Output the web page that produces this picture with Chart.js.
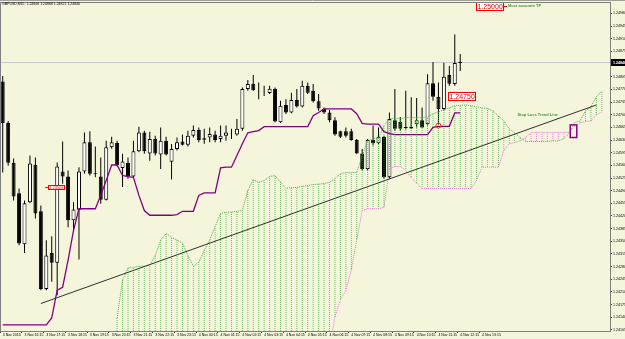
<!DOCTYPE html>
<html>
<head>
<meta charset="utf-8">
<script src="https://cdn.jsdelivr.net/npm/chart.js@4.4.0/dist/chart.umd.min.js"></script>
<style>
  html, body { margin: 0; padding: 0; background: #f5f5dc; }
  canvas { display: block; }
</style>
</head>
<body>
<canvas id="myChart" width="625" height="339"></canvas>
<script>
// GBPUSD M15 candles, bar 0 = 3 Nov 15:15
var opens = [
  1.24792, 1.24677, 1.24567, 1.24483, 1.24342, 1.24458, 1.24562, 1.24433, 1.24218, 1.24318,
  1.24291, 1.24543, 1.24529, 1.24408, 1.24437, 1.24543, 1.24624, 1.24537, 1.24529, 1.24465,
  1.24610, 1.24622, 1.24553, 1.24567, 1.24529, 1.24599, 1.24651, 1.24593, 1.24633, 1.24590,
  1.24628, 1.24570, 1.24605, 1.24626, 1.24617, 1.24642, 1.24658, 1.24631, 1.24637, 1.24645,
  1.24633, 1.24642, 1.24648, 1.24645, 1.24661, 1.24771, 1.24785, 1.24765, 1.24764, 1.24760,
  1.24772, 1.24679, 1.24727, 1.24706, 1.24741, 1.24723, 1.24780, 1.24766, 1.24737, 1.24716,
  1.24706, 1.24685, 1.24654, 1.24654, 1.24654, 1.24630, 1.24593, 1.24550, 1.24630, 1.24621,
  1.24639, 1.24527, 1.24685, 1.24680, 1.24663, 1.24667, 1.24674, 1.24685, 1.24674, 1.24787,
  1.24750, 1.24716, 1.24810, 1.24785, 1.24843
];
var highs = [
  1.24807, 1.24683, 1.24579, 1.24496, 1.24463, 1.24587, 1.24582, 1.24449, 1.24353, 1.24364,
  1.24568, 1.24626, 1.24546, 1.24458, 1.24555, 1.24651, 1.24654, 1.24612, 1.24582, 1.24628,
  1.24639, 1.24628, 1.24592, 1.24582, 1.24628, 1.24667, 1.24656, 1.24653, 1.24642, 1.24665,
  1.24639, 1.24619, 1.24637, 1.24645, 1.24656, 1.24670, 1.24665, 1.24661, 1.24665, 1.24656,
  1.24670, 1.24670, 1.24661, 1.24688, 1.24775, 1.24796, 1.24810, 1.24789, 1.24780, 1.24780,
  1.24775, 1.24739, 1.24743, 1.24761, 1.24771, 1.24794, 1.24789, 1.24785, 1.24757, 1.24720,
  1.24713, 1.24693, 1.24656, 1.24665, 1.24661, 1.24633, 1.24605, 1.24633, 1.24670, 1.24665,
  1.24642, 1.24706, 1.24771, 1.24694, 1.24766, 1.24748, 1.24746, 1.24720, 1.24812, 1.24846,
  1.24789, 1.24844, 1.24835, 1.24922, 1.24868
];
var lows = [
  1.24540, 1.24559, 1.24463, 1.24339, 1.24318, 1.24455, 1.24413, 1.24215, 1.24215, 1.24238,
  1.24201, 1.24509, 1.24389, 1.24376, 1.24300, 1.24537, 1.24532, 1.24527, 1.24454, 1.24463,
  1.24606, 1.24557, 1.24500, 1.24523, 1.24527, 1.24596, 1.24592, 1.24573, 1.24587, 1.24550,
  1.24587, 1.24521, 1.24601, 1.24615, 1.24612, 1.24637, 1.24624, 1.24620, 1.24624, 1.24624,
  1.24624, 1.24628, 1.24633, 1.24642, 1.24656, 1.24766, 1.24766, 1.24743, 1.24752, 1.24757,
  1.24679, 1.24677, 1.24702, 1.24704, 1.24720, 1.24720, 1.24757, 1.24734, 1.24711, 1.24702,
  1.24679, 1.24642, 1.24636, 1.24637, 1.24628, 1.24592, 1.24546, 1.24546, 1.24615, 1.24619,
  1.24523, 1.24523, 1.24656, 1.24656, 1.24659, 1.24661, 1.24665, 1.24664, 1.24670, 1.24739,
  1.24674, 1.24711, 1.24780, 1.24780, 1.24821
];
var closes = [
  1.24677, 1.24567, 1.24474, 1.24344, 1.24455, 1.24565, 1.24427, 1.24218, 1.24311, 1.24291,
  1.24557, 1.24529, 1.24408, 1.24438, 1.24543, 1.24624, 1.24537, 1.24539, 1.24465, 1.24610,
  1.24624, 1.24561, 1.24571, 1.24529, 1.24599, 1.24651, 1.24599, 1.24633, 1.24593, 1.24628,
  1.24590, 1.24605, 1.24624, 1.24617, 1.24642, 1.24658, 1.24630, 1.24635, 1.24647, 1.24630,
  1.24642, 1.24651, 1.24649, 1.24661, 1.24771, 1.24785, 1.24768, 1.24764, 1.24765, 1.24772,
  1.24681, 1.24725, 1.24706, 1.24741, 1.24723, 1.24780, 1.24761, 1.24737, 1.24717, 1.24706,
  1.24685, 1.24645, 1.24639, 1.24642, 1.24630, 1.24593, 1.24550, 1.24630, 1.24621, 1.24639,
  1.24527, 1.24688, 1.24661, 1.24661, 1.24666, 1.24662, 1.24685, 1.24665, 1.24787, 1.24750,
  1.24716, 1.24805, 1.24786, 1.24843, 1.24846
];

// Ichimoku kijun-sen (purple)
var kijun = [
  1.24119, 1.24119, 1.24119, 1.24119, 1.24119, 1.24119, 1.24119, 1.24119, 1.24119, 1.24138,
  1.24215, 1.24223, 1.24298, 1.24380, 1.24440, 1.24440, 1.24440, 1.24440, 1.24477, 1.24518,
  1.24561, 1.24561, 1.24532, 1.24529, 1.24527, 1.24477, 1.24435, 1.24422, 1.24422, 1.24422,
  1.24422, 1.24422, 1.24424, 1.24433, 1.24433, 1.24433, 1.24477, 1.24484, 1.24484, 1.24484,
  1.24553, 1.24555, 1.24555, 1.24587, 1.24620, 1.24650, 1.24653, 1.24656, 1.24667, 1.24667,
  1.24667, 1.24667, 1.24667, 1.24667, 1.24667, 1.24667, 1.24667, 1.24697, 1.24706, 1.24716,
  1.24716, 1.24716, 1.24716, 1.24716, 1.24716, 1.24703, 1.24676, 1.24674, 1.24674, 1.24674,
  1.24653, 1.24648, 1.24645, 1.24645, 1.24645, 1.24645, 1.24645, 1.24645, 1.24645, 1.24665,
  1.24668, 1.24668, 1.24668, 1.24705, 1.24705
];

// cloud, shifted 26 bars ahead (1.24050 = below the visible range)
var spanA = [
  null, null, null, null, null, null, null, null, null, null,
  null, null, null, null, null, null, null, null, null, null,
  null, 1.24138, 1.24243, 1.24276, 1.24278, 1.24281, 1.24281, 1.24284, 1.24311, 1.24353,
  1.24372, 1.24361, 1.24353, 1.24345, 1.24311, 1.24281, 1.24292, 1.24325, 1.24353, 1.24391,
  1.24427, 1.24430, 1.24431, 1.24433, 1.24435, 1.24491, 1.24521, 1.24513, 1.24518, 1.24529,
  1.24532, 1.24513, 1.24496, 1.24499, 1.24499, 1.24502, 1.24504, 1.24507, 1.24508, 1.24510,
  1.24513, 1.24523, 1.24537, 1.24540, 1.24540, 1.24540, 1.24587, 1.24628, 1.24634, 1.24635,
  1.24670, 1.24689, 1.24690, 1.24690, 1.24692, 1.24692, 1.24692, 1.24692, 1.24694, 1.24703,
  1.24708, 1.24714, 1.24719, 1.24725, 1.24726, 1.24727, 1.24725, 1.24722, 1.24719, 1.24717,
  1.24711, 1.24697, 1.24683, 1.24661, 1.24650, 1.24637, 1.24626, 1.24626, 1.24626, 1.24626,
  1.24626, 1.24628, 1.24628, 1.24634, 1.24648, 1.24678, 1.24683, 1.24711, 1.24722, 1.24750,
  1.24766
];
var spanB = [
  null, null, null, null, null, null, null, null, null, null,
  null, null, null, null, null, null, null, null, null, null,
  null, 1.24050, 1.24050, 1.24050, 1.24050, 1.24050, 1.24050, 1.24050, 1.24050, 1.24050,
  1.24050, 1.24050, 1.24050, 1.24050, 1.24050, 1.24050, 1.24050, 1.24050, 1.24050, 1.24050,
  1.24050, 1.24050, 1.24050, 1.24050, 1.24050, 1.24050, 1.24050, 1.24050, 1.24050, 1.24050,
  1.24050, 1.24050, 1.24050, 1.24050, 1.24050, 1.24050, 1.24050, 1.24050, 1.24050, 1.24050,
  1.24050, 1.24141, 1.24188, 1.24215, 1.24270, 1.24353, 1.24435, 1.24440, 1.24440, 1.24440,
  1.24444, 1.24551, 1.24557, 1.24557, 1.24546, 1.24526, 1.24510, 1.24496, 1.24496, 1.24496,
  1.24496, 1.24496, 1.24496, 1.24496, 1.24496, 1.24496, 1.24496, 1.24518, 1.24555, 1.24555,
  1.24555, 1.24555, 1.24601, 1.24620, 1.24623, 1.24628, 1.24637, 1.24650, 1.24651, 1.24651,
  1.24651, 1.24651, 1.24651, 1.24651, 1.24651, 1.24667, 1.24678, 1.24681, 1.24683, 1.24700,
  1.24708
];

var trendLine = [
  { bar: 7, price: 1.24178 },
  { bar: 109, price: 1.24727 }
];

var timeLabels = [
  '3 Nov 2016', '3 Nov 16:15', '3 Nov 17:15', '3 Nov 18:15', '3 Nov 19:15', '3 Nov 20:15',
  '3 Nov 21:15', '3 Nov 22:15', '3 Nov 23:15', '4 Nov 00:15', '4 Nov 01:15', '4 Nov 02:15',
  '4 Nov 03:15', '4 Nov 04:15', '4 Nov 05:15', '4 Nov 06:15', '4 Nov 07:15', '4 Nov 08:15',
  '4 Nov 09:15', '4 Nov 10:15', '4 Nov 11:15', '4 Nov 12:15', '4 Nov 13:15'
];
var priceTicks = [
  1.24980, 1.24945, 1.24910, 1.24875, 1.24840, 1.24805, 1.24770, 1.24735, 1.24700, 1.24665,
  1.24630, 1.24595, 1.24560, 1.24525, 1.24490, 1.24455, 1.24420, 1.24385, 1.24350, 1.24315,
  1.24280, 1.24245, 1.24210, 1.24175, 1.24140, 1.24105
];

var symbolTitle = 'GBPUSD,M15  1.24846 1.24868 1.24821 1.24846';
var lastPrice = 1.24846;

// chart objects
var levelBoxes = [
  { bar: 86.9, price: 1.25000, text: '1.25000', note: 'Most accurate TP' },
  { bar: 81.7, price: 1.24750, text: '1.24750', note: '' }
];
var smallLevel = { bar: 7.8, price: 1.24500, text: '1.24500' };
var trendNote = { bar: 94.5, price: 1.24699, text: 'Stop Loss Trend Line' };
var boxMark = { bar0: 104.2, bar1: 105.4, top: 1.24672, bottom: 1.24637 };
var circleMark = { bar: 80, price: 1.24670 };

var FONT = '"Liberation Sans", Arial, sans-serif';
var slots = 112; // 85 candles + 26 bars of cloud shift + 1

var bars = [];
for (var i = 0; i < slots; i++) bars.push(String(i));

var trendData = [];
for (var i = 0; i < slots; i++) trendData.push(null);
trendLine.forEach(function (p) { trendData[p.bar] = p.price; });

var wicks = lows.map(function (l, i) { return [l, highs[i]]; });
var bodies = opens.map(function (o, i) { return [o, closes[i]]; });
var cloud = spanA.map(function (a, i) { return a === null ? null : [spanB[i], a]; });

function dotPattern(color) {
  var cv = document.createElement('canvas');
  cv.width = 1;
  cv.height = 2;
  var cx = cv.getContext('2d');
  cx.fillStyle = color;
  cx.fillRect(0, 0, 1, 1);
  return document.getElementById('myChart').getContext('2d').createPattern(cv, 'repeat');
}
var greenDots = dotPattern('rgba(60,170,60,0.75)');
var pinkDots = dotPattern('rgba(240,100,220,0.8)');

function priceBox(c, x, y, text, size) {
  c.font = size + 'px ' + FONT;
  var w = Math.round(c.measureText(text).width + 3);
  var h = Math.round(size + 1.5);
  var top = Math.round(y - h / 2);
  x = Math.round(x);
  c.fillStyle = '#ffffff';
  c.fillRect(x, top, w, h);
  c.strokeStyle = '#ff0000';
  c.lineWidth = 1;
  c.strokeRect(x + 0.5, top + 0.5, w - 1, h - 1);
  c.fillStyle = '#ff0000';
  c.textBaseline = 'middle';
  c.textAlign = 'left';
  c.fillText(text, x + 1.5, top + h / 2 + 0.5);
  return x + w;
}

var decor = {
  id: 'decor',
  beforeDraw: function (chart) {
    var c = chart.ctx;
    c.save();
    c.fillStyle = '#f5f5dc';
    c.fillRect(0, 0, chart.width, chart.height);
    c.restore();
  },
  beforeDatasetsDraw: function (chart) {
    var c = chart.ctx, a = chart.chartArea;
    var py = Math.round(chart.scales.y.getPixelForValue(lastPrice)) + 0.5;
    c.save();
    c.strokeStyle = '#c8c8c8';
    c.lineWidth = 1;
    c.beginPath();
    c.moveTo(a.left, py);
    c.lineTo(a.right, py);
    c.stroke();
    c.restore();
  },
  afterDatasetsDraw: function (chart) {
    var c = chart.ctx, xs = chart.scales.x, ys = chart.scales.y;
    c.save();

    levelBoxes.forEach(function (b) {
      var y = ys.getPixelForValue(b.price);
      var right = priceBox(c, xs.getPixelForValue(b.bar), y, b.text, 7);
      if (b.note) {
        c.strokeStyle = '#ff0000';
        c.beginPath();
        c.moveTo(right, Math.round(y) + 0.5);
        c.lineTo(right + 3, Math.round(y) + 0.5);
        c.stroke();
        c.font = 'bold 4px ' + FONT;
        c.fillStyle = '#3c9c3c';
        c.textBaseline = 'middle';
        c.fillText(b.note, right + 4, y);
      }
    });

    var sy = ys.getPixelForValue(smallLevel.price);
    var sx = xs.getPixelForValue(smallLevel.bar);
    c.strokeStyle = '#ff0000';
    c.beginPath();
    c.moveTo(sx, Math.round(sy) + 0.5);
    c.lineTo(sx + 3, Math.round(sy) + 0.5);
    c.stroke();
    priceBox(c, sx + 3, sy, smallLevel.text, 3.8);

    c.font = 'bold 4px ' + FONT;
    c.fillStyle = '#3c9c3c';
    c.textBaseline = 'middle';
    c.fillText(trendNote.text, xs.getPixelForValue(trendNote.bar), ys.getPixelForValue(trendNote.price));

    var bx0 = xs.getPixelForValue(boxMark.bar0), bx1 = xs.getPixelForValue(boxMark.bar1);
    var by0 = ys.getPixelForValue(boxMark.top), by1 = ys.getPixelForValue(boxMark.bottom);
    c.strokeStyle = '#8b008b';
    c.lineWidth = 1.5;
    c.strokeRect(bx0, by0, bx1 - bx0, by1 - by0);

    c.strokeStyle = '#ff2020';
    c.lineWidth = 1;
    c.beginPath();
    c.arc(xs.getPixelForValue(circleMark.bar), ys.getPixelForValue(circleMark.price), 2.5, 0, Math.PI * 2);
    c.stroke();

    c.restore();
  },
  afterDraw: function (chart) {
    var c = chart.ctx, a = chart.chartArea;
    c.save();
    // frame
    c.strokeStyle = '#808080';
    c.lineWidth = 1;
    c.strokeRect(Math.round(a.left) + 0.5, Math.round(a.top) - 0.5, Math.round(a.right - a.left), Math.round(a.bottom - a.top) + 1);
    c.strokeStyle = '#a0a090';
    c.beginPath();
    c.moveTo(0, 0.5);
    c.lineTo(chart.width, 0.5);
    c.stroke();

    // symbol line
    c.font = '3.5px ' + FONT;
    c.fillStyle = '#000000';
    c.textBaseline = 'middle';
    c.textAlign = 'left';
    c.fillText(symbolTitle, 2, 4);

    // bid label on the price axis
    var py = Math.round(chart.scales.y.getPixelForValue(lastPrice));
    c.fillStyle = '#000000';
    c.fillRect(Math.round(a.right) + 1, py - 3, chart.width - a.right, 7);
    c.fillStyle = '#ffffff';
    c.font = 'bold 3.6px ' + FONT;
    c.fillText(lastPrice.toFixed(5), Math.round(a.right) + 3, py + 0.5);
    c.restore();
  }
};

var config = {
  type: 'bar',
  data: {
    labels: bars,
    datasets: [
      {
        type: 'line', label: 'Trend', data: trendData, spanGaps: true,
        borderColor: '#303030', borderWidth: 1, pointRadius: 0, order: 0
      },
      {
        type: 'line', label: 'Kijun', data: kijun,
        borderColor: '#800080', borderWidth: 1.3, pointRadius: 0, order: 1
      },
      {
        type: 'line', label: 'Span A', data: spanA,
        borderColor: '#4cae4c', borderWidth: 1, borderDash: [1, 1], pointRadius: 0, order: 2
      },
      {
        type: 'line', label: 'Span B', data: spanB,
        borderColor: '#f070dc', borderWidth: 1, borderDash: [1, 1], pointRadius: 0, order: 2
      },
      {
        label: 'Cloud', data: cloud, grouped: false, barThickness: 1, order: 3, inflateAmount: 0,
        backgroundColor: function (ctx) {
          var i = ctx.dataIndex;
          return spanA[i] >= spanB[i] ? greenDots : pinkDots;
        }
      },
      {
        label: 'Body', data: bodies, grouped: false, barThickness: 4, order: 4,
        borderColor: '#000000', borderWidth: 1, borderSkipped: false, inflateAmount: 0,
        backgroundColor: function (ctx) {
          var i = ctx.dataIndex;
          return closes[i] >= opens[i] ? '#ffffff' : '#000000';
        }
      },
      {
        label: 'Wick', data: wicks, grouped: false, barThickness: 1, order: 5,
        backgroundColor: '#000000', inflateAmount: 0
      }
    ]
  },
  options: {
    responsive: false,
    devicePixelRatio: 1,
    animation: false,
    layout: { padding: { left: 0, top: 2, right: 0, bottom: 0 } },
    plugins: {
      legend: { display: false },
      tooltip: { enabled: false }
    },
    scales: {
      x: {
        type: 'category',
        offset: true,
        afterFit: function (s) { s.height = 8; },
        border: { display: false },
        grid: {
          drawOnChartArea: false,
          tickLength: 2,
          color: function (ctx) {
            return (ctx.index % 4 === 0 && timeLabels[ctx.index / 4]) ? '#404040' : 'rgba(0,0,0,0)';
          }
        },
        ticks: {
          autoSkip: false,
          maxRotation: 0,
          minRotation: 0,
          align: 'start',
          padding: 0,
          color: '#000000',
          font: { size: 3.5, family: FONT },
          callback: function (v, i) {
            return (i % 4 === 0 && timeLabels[i / 4]) ? timeLabels[i / 4] : '';
          }
        }
      },
      y: {
        position: 'right',
        min: 1.24102,
        max: 1.250085,
        afterFit: function (s) { s.width = 15; },
        afterBuildTicks: function (s) {
          s.ticks = priceTicks.map(function (v) { return { value: v }; });
        },
        border: { display: false },
        grid: { drawOnChartArea: false, tickLength: 2, color: '#404040' },
        ticks: {
          autoSkip: false,
          padding: 1,
          color: '#000000',
          font: { size: 3.6, family: FONT },
          callback: function (v) { return Number(v).toFixed(5); }
        }
      }
    }
  },
  plugins: [decor]
};

new Chart(document.getElementById('myChart'), config);
</script>
</body>
</html>
